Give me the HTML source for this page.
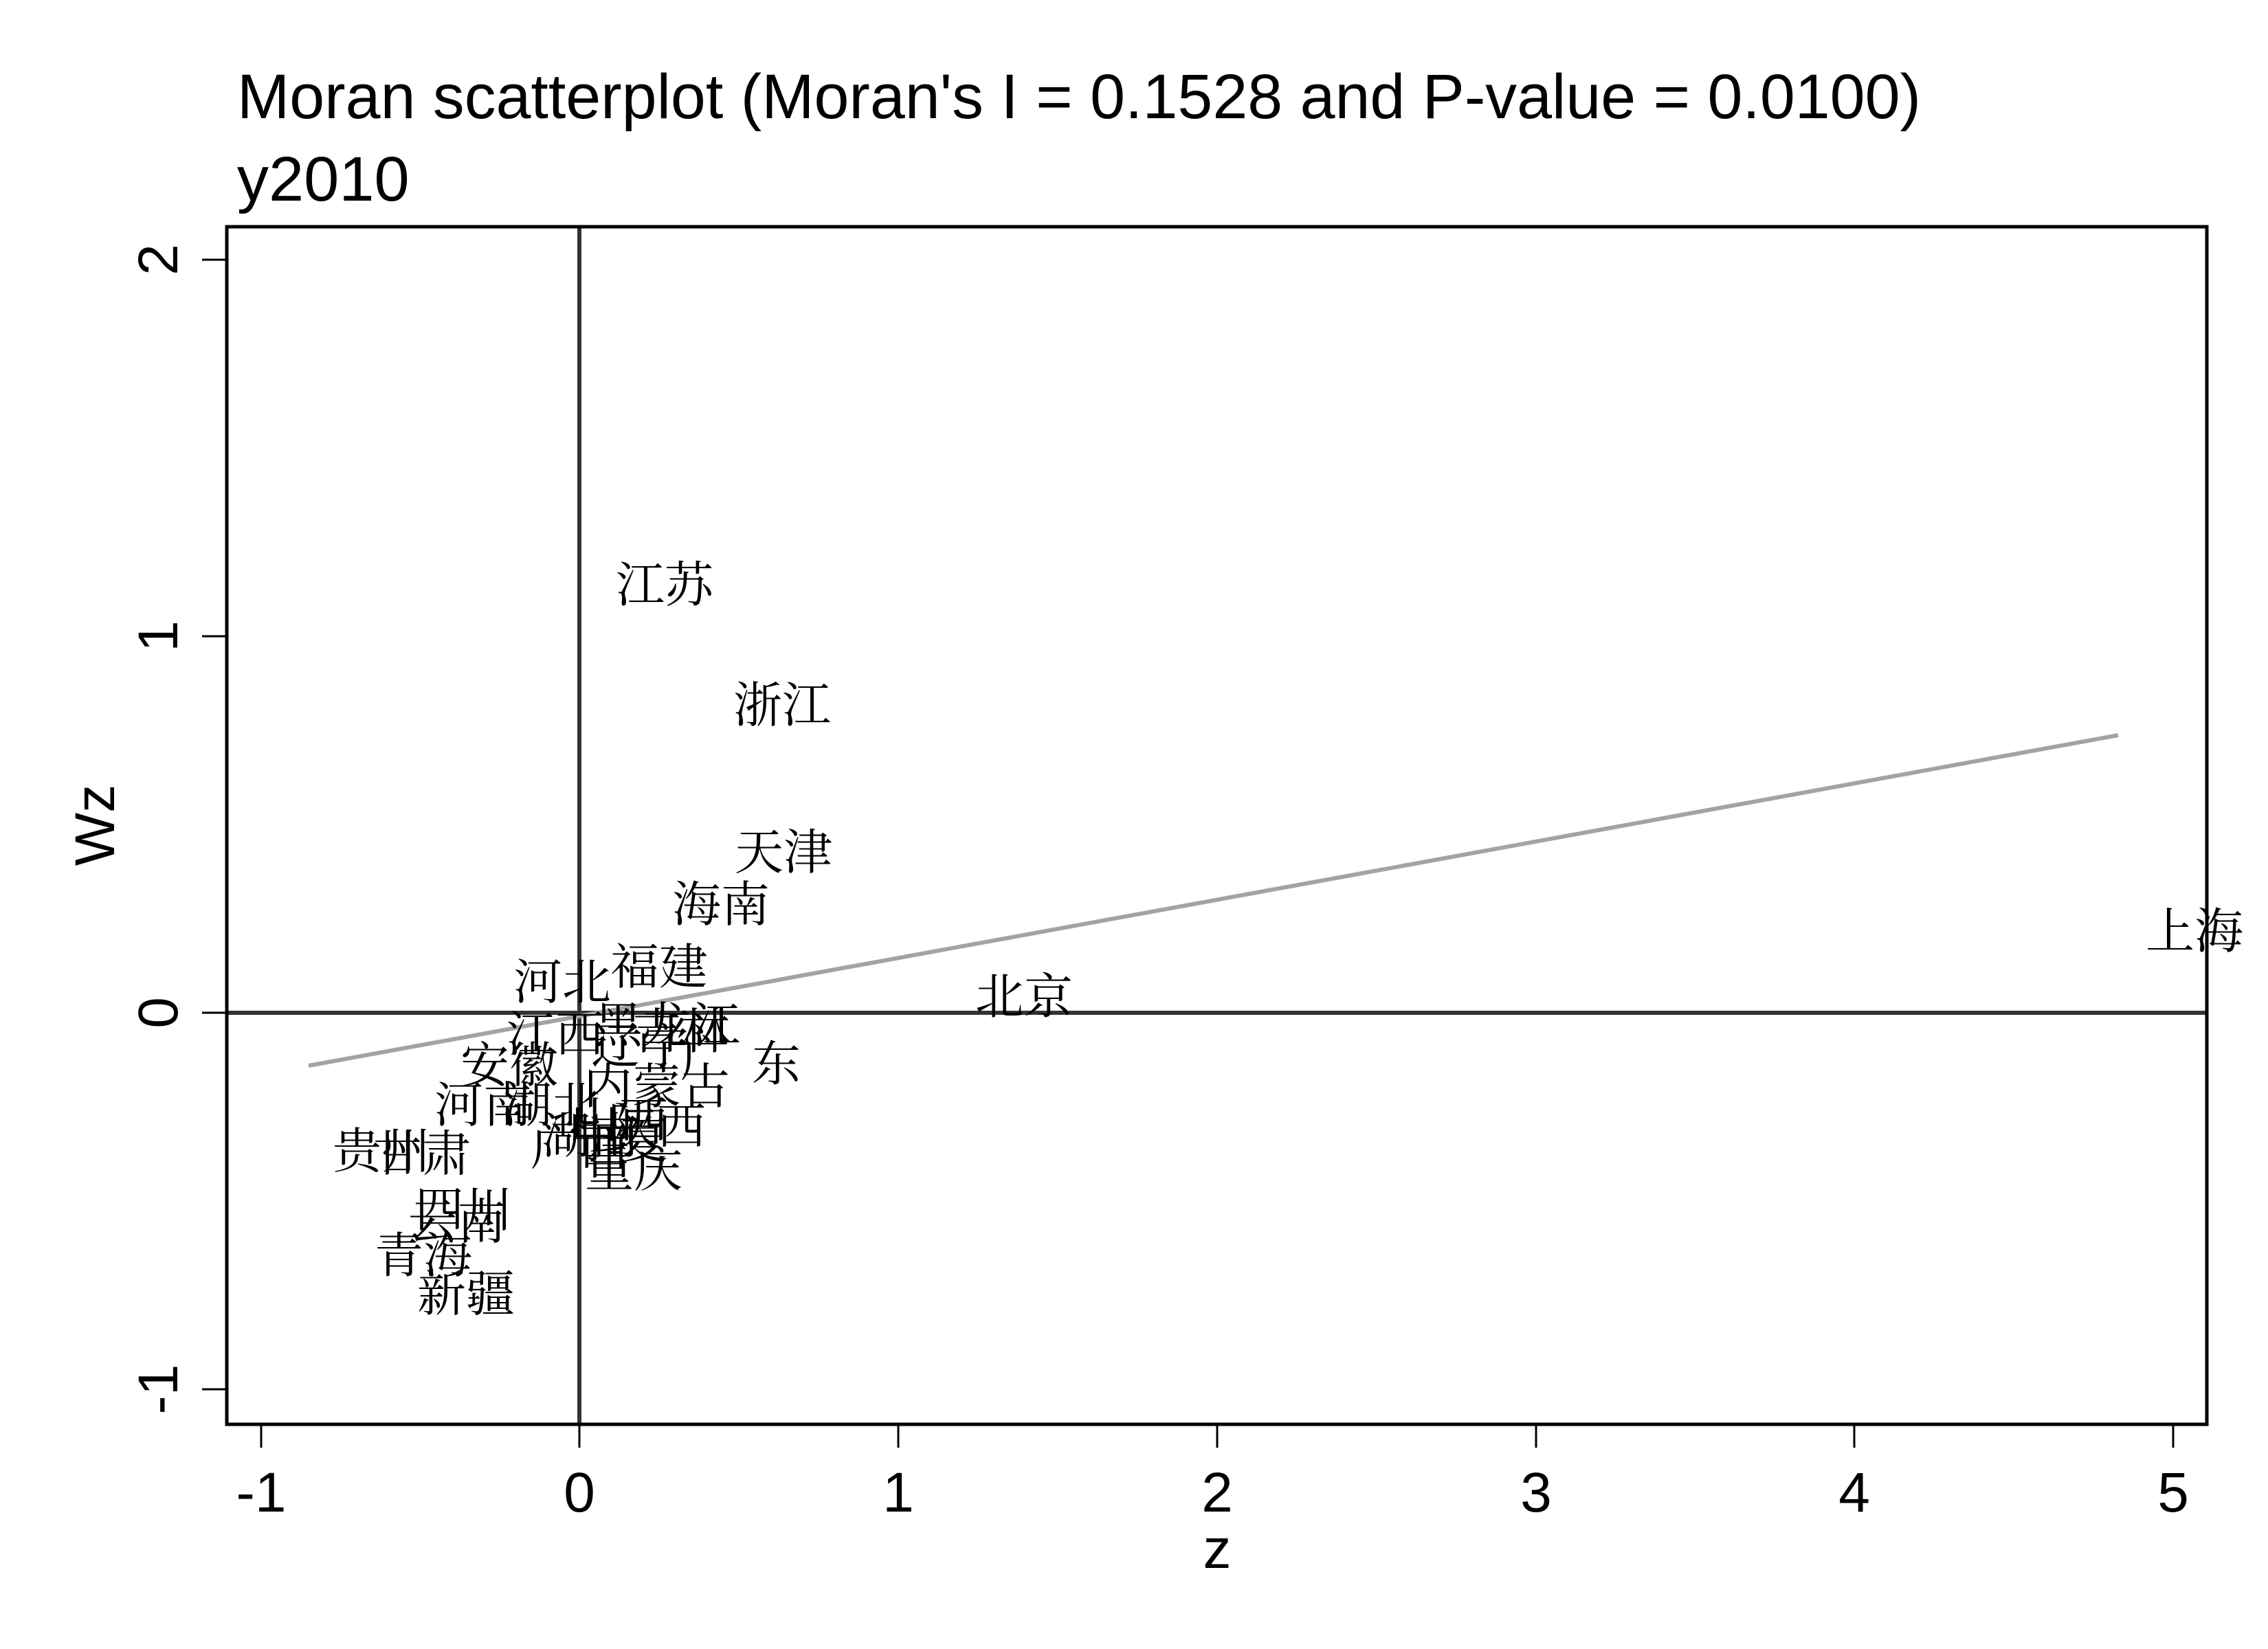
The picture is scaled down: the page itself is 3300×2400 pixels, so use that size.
<!DOCTYPE html>
<html><head><meta charset="utf-8"><style>html,body{margin:0;padding:0;background:#fff}svg{display:block}</style></head>
<body>
<svg width="3300" height="2400" viewBox="0 0 3300 2400" xmlns="http://www.w3.org/2000/svg">
<rect width="3300" height="2400" fill="#fff"/>
<g font-family="Liberation Sans, Arial, sans-serif" fill="#000">
<text x="345" y="172" font-size="92" textLength="2450" lengthAdjust="spacingAndGlyphs">Moran scatterplot (Moran's I = 0.1528 and P-value = 0.0100)</text>
<text x="345" y="292" font-size="92">y2010</text>
</g>
<line x1="843" y1="330" x2="843" y2="2073" stroke="#333" stroke-width="6"/>
<line x1="328" y1="1474" x2="3211" y2="1474" stroke="#333" stroke-width="6"/>
<line x1="449" y1="1551" x2="3082" y2="1070" stroke="#a3a3a3" stroke-width="6"/>
<rect x="330" y="330" width="2881" height="1743" fill="none" stroke="#000" stroke-width="5"/>
<g stroke="#000" stroke-width="3">
<line x1="380" y1="2073" x2="380" y2="2107"/>
<line x1="843" y1="2073" x2="843" y2="2107"/>
<line x1="1307" y1="2073" x2="1307" y2="2107"/>
<line x1="1771" y1="2073" x2="1771" y2="2107"/>
<line x1="2235" y1="2073" x2="2235" y2="2107"/>
<line x1="2698" y1="2073" x2="2698" y2="2107"/>
<line x1="3162" y1="2073" x2="3162" y2="2107"/>
<line x1="294" y1="378" x2="330" y2="378"/>
<line x1="294" y1="926" x2="330" y2="926"/>
<line x1="294" y1="1474" x2="330" y2="1474"/>
<line x1="294" y1="2022" x2="330" y2="2022"/>
</g>
<g font-family="Liberation Sans, Arial, sans-serif" fill="#000" font-size="82" text-anchor="middle">
<text x="380" y="2200">-1</text>
<text x="843" y="2200">0</text>
<text x="1307" y="2200">1</text>
<text x="1771" y="2200">2</text>
<text x="2235" y="2200">3</text>
<text x="2698" y="2200">4</text>
<text x="3162" y="2200">5</text>
<text x="1771" y="2282">z</text>
<text transform="translate(258,378) rotate(-90)">2</text>
<text transform="translate(258,926) rotate(-90)">1</text>
<text transform="translate(258,1474) rotate(-90)">0</text>
<text transform="translate(258,2022) rotate(-90)">-1</text>
<text transform="translate(166,1201) rotate(-90)">Wz</text>
</g>
<g font-family="Liberation Serif, 'Noto Serif CJK SC', serif" font-size="71" fill="#000" dominant-baseline="central">
<text x="896" y="853">江苏</text>
<text x="1067" y="1028">浙江</text>
<text x="1069" y="1242">天津</text>
<text x="978" y="1318">海南</text>
<text x="3122" y="1357">上海</text>
<text x="888" y="1409">福建</text>
<text x="747" y="1431">河北</text>
<text x="1419" y="1452">北京</text>
<text x="737" y="1507">江西</text>
<text x="864" y="1494">黑龙江</text>
<text x="920" y="1503">吉林</text>
<text x="860" y="1525">辽宁</text>
<text x="990" y="1543">广</text>
<text x="1094" y="1550">东</text>
<text x="849" y="1583">内蒙古</text>
<text x="670" y="1552">安徽</text>
<text x="632" y="1610">河南</text>
<text x="732" y="1610">湖北</text>
<text x="788" y="1655">湖南</text>
<text x="830" y="1632">山西</text>
<text x="885" y="1641">陕西</text>
<text x="772" y="1672">广西</text>
<text x="830" y="1662">宁夏</text>
<text x="851" y="1704">重庆</text>
<text x="484" y="1677">贵州</text>
<text x="543" y="1681">甘肃</text>
<text x="604" y="1762">四川</text>
<text x="594" y="1780">云南</text>
<text x="545" y="1829">青海</text>
<text x="607" y="1885">新疆</text>
</g>
</svg>
</body></html>
